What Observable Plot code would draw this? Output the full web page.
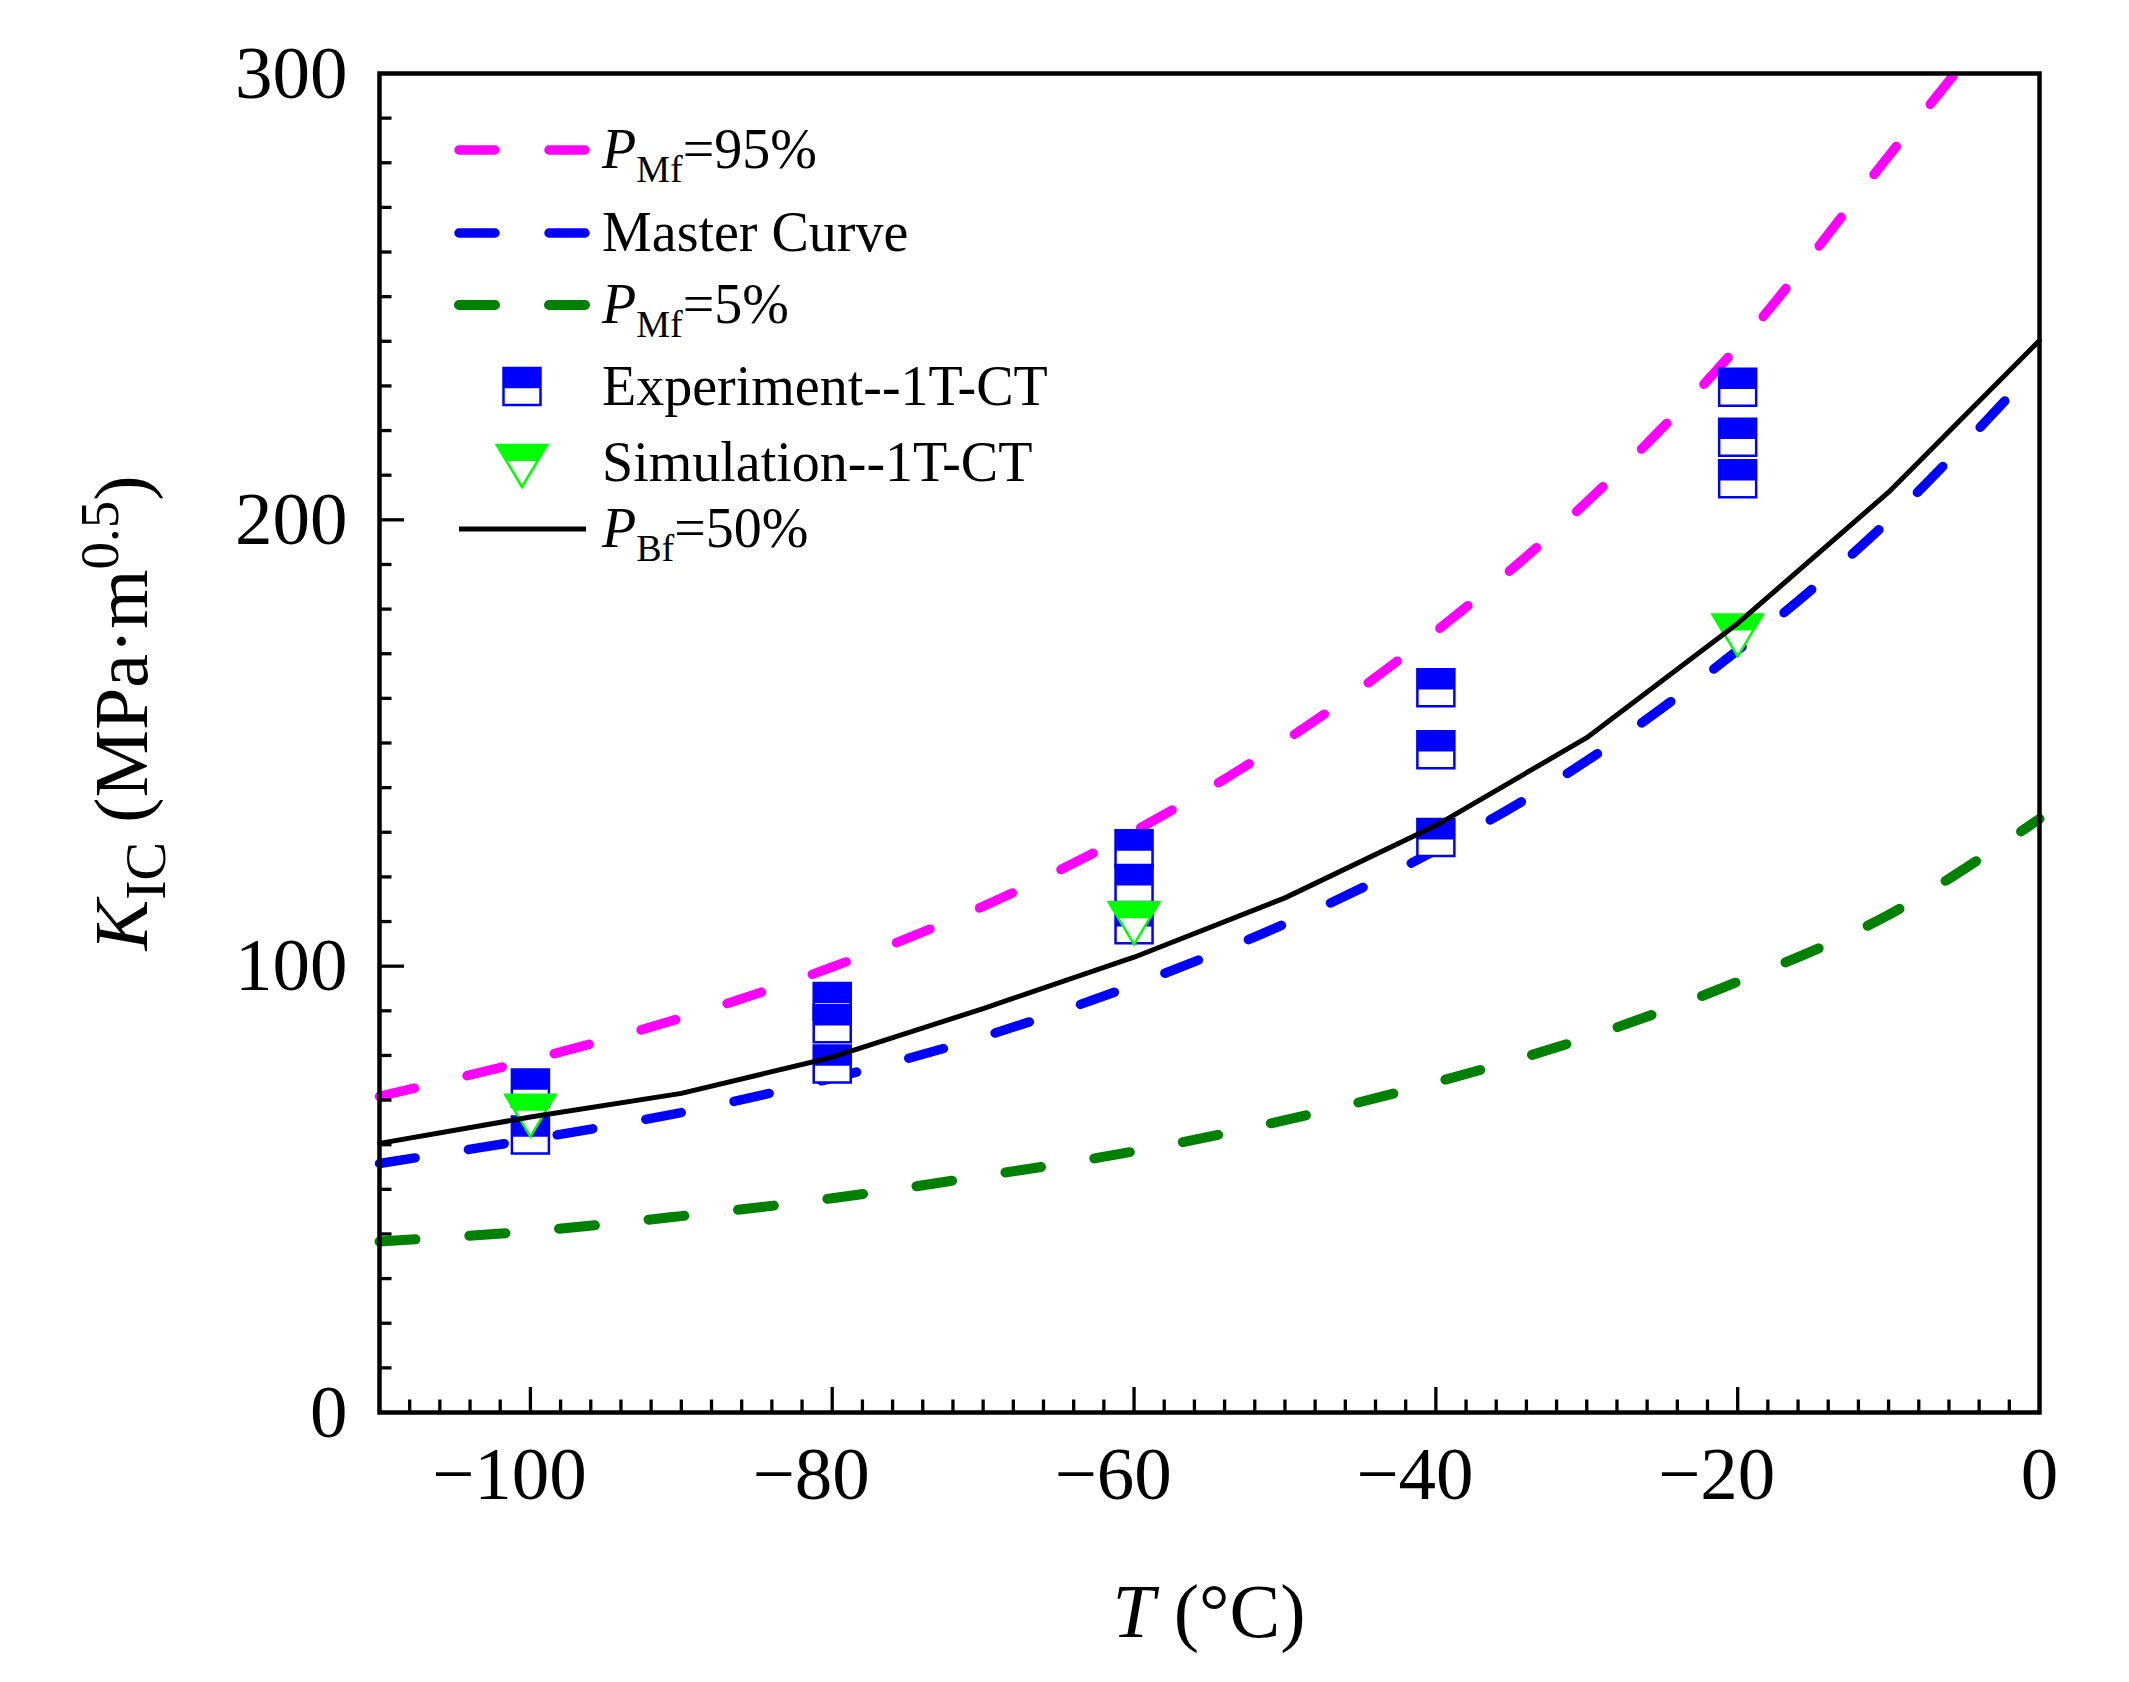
<!DOCTYPE html>
<html>
<head>
<meta charset="utf-8">
<script src="https://cdn.jsdelivr.net/npm/d3@7"></script>
<script src="https://cdn.jsdelivr.net/npm/@observablehq/plot@0.6"></script>
<style>
  html, body { margin: 0; padding: 0; background: #fff; }
  #chart { width: 2129px; height: 1682px; }
</style>
</head>
<body>
<div id="chart"></div>
<script>
// --- data (T in °C, K_IC in MPa·m^0.5) ---
const temps = [-110, -100, -90, -80, -70, -60, -50, -40, -30, -20, -10, 0];
const kMaster = [55.8, 61.2, 67.2, 74.9, 84.2, 95.8, 109.5, 126.0, 146.0, 170.8, 199.8, 235.0];
const kLower5 = [38.3, 40.6, 44.0, 48.0, 53.0, 58.5, 65.5, 74.0, 84.0, 96.5, 111.5, 133.0];
const kBf50 = [60.3, 66.2, 71.5, 79.6, 90.5, 102.0, 115.3, 131.5, 151.2, 176.8, 206.2, 240.2];

// the 95% bound leaves the frame at the top, so it has its own T list
const temps95 = [-110, -100, -90, -80, -70, -60, -50, -40, -30, -20, -10, -5.6];
const kUpper95 = [70.8, 79.0, 88.4, 99.8, 113.4, 130.2, 150.5, 175.0, 204.0, 238.8, 281.5, 300];

// Experiment--1T-CT (drawn top to bottom at each temperature)
const expT = [-100, -100, -80, -80, -80, -60, -60, -60, -40, -40, -40, -20, -20, -20];
const expK = [72.7, 62.2, 92.1, 87.1, 78.1, 126.3, 118.5, 109.3, 162.4, 148.5, 128.8, 229.7, 218.5, 209.2];

// Simulation--1T-CT
const simT = [-100, -60, -20];
const simK = [66.5, 109.6, 174.1];

// axis ticks
const xLabelsNeg = [-100, -80, -60, -40, -20];
const xLabelsZero = [0];
const yLabels = [0, 100, 200, 300];
const xMajorTicks = [-100, -80, -60, -40, -20];
const xMinorTicks = d3.range(-108, 0, 2).filter(v => v % 20 !== 0);
const yMajorTicks = [100, 200];
const yMinorTicks = d3.range(10, 300, 10).filter(v => v % 100 !== 0);

// --- layout ---
const W = 2129, H = 1682;
const mL = 379, mR = 90, mT = 73, mB = 270;
const xDomain = [-110, 0], yDomain = [0, 300];
const plotW = W - mL - mR, plotH = H - mT - mB;
const xUnits = px => px * (xDomain[1] - xDomain[0]) / plotW;
const yUnits = px => px * (yDomain[1] - yDomain[0]) / plotH;

const serif = "'Liberation Serif', 'Times New Roman', serif";
const BLUE = "#0000ff", GREEN = "#00ff00", MAGENTA = "#ff00ff", DKGREEN = "#008000";
const dash = "36,54";
const DASH_W = 9.5;

// --- half-filled symbols (Origin style) ---
const rad = size => Math.sqrt(size / Math.PI);
const squareBox = {draw(ctx, size) {
  const r = rad(size);
  ctx.moveTo(-r, -r); ctx.lineTo(r, -r); ctx.lineTo(r, r); ctx.lineTo(-r, r); ctx.closePath();
}};
const squareTop = {draw(ctx, size) {
  const r = rad(size), b = -r + 2 * r * 0.55;
  ctx.moveTo(-r, -r); ctx.lineTo(r, -r); ctx.lineTo(r, b); ctx.lineTo(-r, b); ctx.closePath();
}};
const triBox = {draw(ctx, size) {
  const r = rad(size), w = 1.2 * r;
  ctx.moveTo(-w, -r); ctx.lineTo(w, -r); ctx.lineTo(0, r); ctx.closePath();
}};
const triTop = {draw(ctx, size) {
  const r = rad(size), w = 1.2 * r, f = 0.38;
  const yb = -r + 2 * r * f, wb = w * (1 - f);
  ctx.moveTo(-w, -r); ctx.lineTo(w, -r); ctx.lineTo(wb, yb); ctx.lineTo(-wb, yb); ctx.closePath();
}};
const SQ_R = 18.5, TRI_R = 21;

// squares overlap, so each one gets its outline + top in order
const expMarks = expT.flatMap((t, i) => [
  Plot.dot([i], {x: j => expT[j], y: j => expK[j], symbol: squareBox, r: SQ_R,
    fill: "white", stroke: BLUE, strokeWidth: 2.5}),
  Plot.dot([i], {x: j => expT[j], y: j => expK[j], symbol: squareTop, r: SQ_R,
    fill: BLUE, stroke: "none"})
]);

const tickStyle = {stroke: "black", strokeWidth: 3.3};

const plot = Plot.plot({
  width: W,
  height: H,
  marginLeft: mL,
  marginRight: mR,
  marginTop: mT,
  marginBottom: mB,
  x: {domain: xDomain},
  y: {domain: yDomain},
  style: {fontFamily: serif, background: "white", color: "black", overflow: "visible"},
  marks: [
    // bounds and master curve
    Plot.line(temps95, {x: temps95, y: kUpper95, stroke: MAGENTA, strokeWidth: DASH_W,
      strokeDasharray: dash, strokeLinecap: "round", curve: "catmull-rom"}),
    Plot.line(temps, {x: temps, y: kMaster, stroke: BLUE, strokeWidth: DASH_W,
      strokeDasharray: dash, strokeLinecap: "round", curve: "catmull-rom"}),
    Plot.line(temps, {x: temps, y: kLower5, stroke: DKGREEN, strokeWidth: DASH_W + 0.5,
      strokeDasharray: dash, strokeLinecap: "round", curve: "catmull-rom"}),

    ...expMarks,

    Plot.dot(simT, {x: simT, y: simK, symbol: triBox, r: TRI_R, fill: "white", stroke: GREEN, strokeWidth: 2.5}),
    Plot.dot(simT, {x: simT, y: simK, symbol: triTop, r: TRI_R, fill: GREEN, stroke: "none"}),

    Plot.line(temps, {x: temps, y: kBf50, stroke: "black", strokeWidth: 5}),

    // inward ticks
    Plot.ruleX(xMinorTicks, {x: d => d, y1: yDomain[0], y2: yDomain[0] + yUnits(12.5), ...tickStyle}),
    Plot.ruleX(xMajorTicks, {x: d => d, y1: yDomain[0], y2: yDomain[0] + yUnits(25), ...tickStyle}),
    Plot.ruleY(yMinorTicks, {y: d => d, x1: xDomain[0], x2: xDomain[0] + xUnits(12.5), ...tickStyle}),
    Plot.ruleY(yMajorTicks, {y: d => d, x1: xDomain[0], x2: xDomain[0] + xUnits(25), ...tickStyle}),

    Plot.frame({stroke: "black", strokeWidth: 4.5}),

    // tick labels (digits centred on the tick, minus hangs left)
    Plot.axisY(yLabels, {tickSize: 0, tickPadding: 32, fontSize: 75, label: null}),
    Plot.axisX(xLabelsNeg, {tickSize: 0, tickPadding: 33, fontSize: 75, dx: -21, label: null}),
    Plot.axisX(xLabelsZero, {tickSize: 0, tickPadding: 33, fontSize: 75, label: null})
  ]
});

document.getElementById("chart").appendChild(plot);

// --- axis titles and legend, with sub/superscripts ---
const svg = d3.select(plot);

const xt = svg.append("text")
  .attr("x", mL + plotW / 2).attr("y", 1637)
  .attr("text-anchor", "middle")
  .attr("font-family", serif).attr("font-size", 76).attr("fill", "black");
xt.append("tspan").attr("font-style", "italic").text("T");
xt.append("tspan").text(" (°C)");

const yt = svg.append("text")
  .attr("transform", `translate(147,713) rotate(-90)`)
  .attr("text-anchor", "middle")
  .attr("font-family", serif).attr("font-size", 76).attr("fill", "black");
yt.append("tspan").attr("font-style", "italic").text("K");
yt.append("tspan").attr("font-size", 58).attr("dy", 18).text("IC");
yt.append("tspan").attr("dy", -18).text(" (MPa·m");
yt.append("tspan").attr("font-size", 55).attr("dy", -29).text("0.5");
yt.append("tspan").attr("dy", 29).text(")");

const legendItems = [
  {y: 150, kind: "dash", color: MAGENTA, width: DASH_W, label: ["P", "Mf", "=95%"]},
  {y: 233, kind: "dash", color: BLUE, width: DASH_W, label: "Master Curve"},
  {y: 305, kind: "dash", color: DKGREEN, width: DASH_W + 0.5, label: ["P", "Mf", "=5%"]},
  {y: 386.5, kind: "square", label: "Experiment--1T-CT"},
  {y: 463, kind: "triangle", label: "Simulation--1T-CT"},
  {y: 529, kind: "solid", color: "black", width: 5, label: ["P", "Bf", "=50%"]}
];

const lg = svg.append("g")
  .attr("font-family", serif).attr("font-size", 56).attr("fill", "black")
  .attr("text-anchor", "start");
const symPath = (sym, r) => { const p = d3.path(); sym.draw(p, r * r * Math.PI); return p.toString(); };

for (const it of legendItems) {
  if (it.kind === "dash" || it.kind === "solid") {
    const ln = lg.append("line")
      .attr("x1", 459).attr("x2", 586).attr("y1", it.y).attr("y2", it.y)
      .attr("stroke", it.color).attr("stroke-width", it.width);
    if (it.kind === "dash") ln.attr("stroke-dasharray", dash).attr("stroke-linecap", "round");
  } else if (it.kind === "square") {
    const g = lg.append("g").attr("transform", `translate(522,${it.y})`);
    g.append("path").attr("d", symPath(squareBox, SQ_R)).attr("fill", "white").attr("stroke", BLUE).attr("stroke-width", 2.5);
    g.append("path").attr("d", symPath(squareTop, SQ_R)).attr("fill", BLUE);
  } else {
    const g = lg.append("g").attr("transform", `translate(522,${it.y + 3})`);
    g.append("path").attr("d", symPath(triBox, TRI_R)).attr("fill", "white").attr("stroke", GREEN).attr("stroke-width", 2.5);
    g.append("path").attr("d", symPath(triTop, TRI_R)).attr("fill", GREEN);
  }
  const t = lg.append("text").attr("x", 602).attr("y", it.y + 18).attr("text-anchor", "start");
  if (Array.isArray(it.label)) {
    t.append("tspan").attr("font-style", "italic").text(it.label[0]);
    t.append("tspan").attr("font-size", 38).attr("dy", 14).text(it.label[1]);
    t.append("tspan").attr("dy", -14).text(it.label[2]);
  } else {
    t.text(it.label);
  }
}
</script>
</body>
</html>
